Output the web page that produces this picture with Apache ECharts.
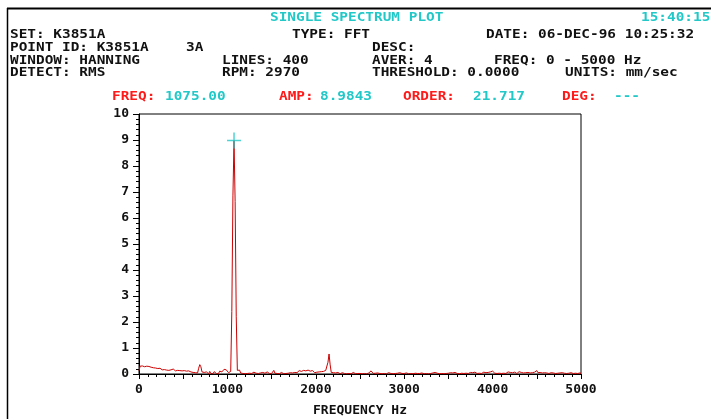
<!DOCTYPE html>
<html>
<head>
    <meta charset="utf-8">
    <title>Single Spectrum Plot</title>
    <script src="https://cdn.jsdelivr.net/npm/echarts@6/dist/echarts.min.js"></script>
</head>
<body style="margin:0;background:#fff;">
<div id="main" style="width: 711px;height:419px;"></div>
<script type="text/javascript">
    // 400 lines, 0 - 5000 Hz -> 12.5 Hz per bin
    var freqStep = 12.5;
    var amplitude = [
        0.12, 0.30, 0.35, 0.31, 0.34, 0.28, 0.33, 0.30, 0.27, 0.29, 0.24, 0.26, 0.22, 0.24, 0.20, 0.23, 0.25, 0.21, 0.18, 0.22,
        0.19, 0.16, 0.21, 0.17, 0.20, 0.15, 0.19, 0.14, 0.18, 0.16, 0.13, 0.19, 0.15, 0.12, 0.17, 0.14, 0.18, 0.13, 0.16, 0.12,
        0.17, 0.13, 0.15, 0.11, 0.16, 0.12, 0.14, 0.08, 0.10, 0.06, 0.09, 0.05, 0.07, 0.04, 0.22, 0.36, 0.28, 0.08, 0.04, 0.06,
        0.02, 0.08, 0.03, 0.01, 0.10, 0.02, 0.05, 0.01, 0.09, 0.03, 0.02, 0.06, 0.02, 0.11, 0.04, 0.08, 0.14, 0.18, 0.12, 0.16,
        0.10, 0.05, 0.12, 0.10, 2.40, 6.85, 8.9843, 6.63, 2.20, 0.14, 0.10, 0.15, 0.04, 0.08, 0.02, 0.06, 0.01, 0.07, 0.02, 0.05,
        0.03, 0.06, 0.02, 0.04, 0.07, 0.01, 0.03, 0.05, 0.02, 0.01, 0.04, 0.02, 0.06, 0.01, 0.03, 0.02, 0.08, 0.01, 0.02, 0.04,
        0.02, 0.01, 0.14, 0.03, 0.01, 0.02, 0.05, 0.01, 0.03, 0.06, 0.02, 0.01, 0.04, 0.02, 0.07, 0.03, 0.08, 0.05, 0.10, 0.04,
        0.09, 0.06, 0.12, 0.05, 0.08, 0.13, 0.07, 0.10, 0.06, 0.14, 0.09, 0.12, 0.07, 0.15, 0.08, 0.11, 0.06, 0.13, 0.09, 0.05,
        0.10, 0.07, 0.12, 0.08, 0.11, 0.09, 0.13, 0.10, 0.12, 0.14, 0.15, 0.45, 0.77, 0.35, 0.06, 0.03, 0.05, 0.02, 0.04, 0.01,
        0.06, 0.02, 0.01, 0.03, 0.05, 0.01, 0.02, 0.07, 0.01, 0.03, 0.02, 0.04, 0.01, 0.02, 0.06, 0.02, 0.01, 0.03, 0.02, 0.05,
        0.02, 0.04, 0.01, 0.03, 0.02, 0.05, 0.01, 0.02, 0.04, 0.08, 0.12, 0.06, 0.02, 0.01, 0.03, 0.02, 0.04, 0.01, 0.02, 0.03,
        0.01, 0.03, 0.02, 0.04, 0.01, 0.02, 0.05, 0.01, 0.02, 0.03, 0.01, 0.04, 0.02, 0.01, 0.03, 0.02, 0.05, 0.01, 0.02, 0.03,
        0.02, 0.01, 0.04, 0.02, 0.01, 0.03, 0.02, 0.06, 0.01, 0.02, 0.03, 0.01, 0.02, 0.05, 0.02, 0.01, 0.04, 0.02, 0.01, 0.03,
        0.02, 0.05, 0.01, 0.03, 0.02, 0.01, 0.04, 0.02, 0.06, 0.01, 0.03, 0.02, 0.01, 0.05, 0.02, 0.03, 0.01, 0.04, 0.02, 0.01,
        0.03, 0.02, 0.05, 0.01, 0.04, 0.02, 0.06, 0.03, 0.02, 0.05, 0.01, 0.04, 0.03, 0.06, 0.02, 0.05, 0.03, 0.07, 0.02, 0.04,
        0.06, 0.03, 0.05, 0.02, 0.07, 0.04, 0.02, 0.06, 0.03, 0.05, 0.02, 0.04, 0.07, 0.03, 0.05, 0.02, 0.06, 0.04, 0.08, 0.05,
        0.11, 0.06, 0.03, 0.05, 0.02, 0.07, 0.03, 0.04, 0.02, 0.06, 0.03, 0.05, 0.02, 0.04, 0.08, 0.03, 0.06, 0.02, 0.05, 0.03,
        0.07, 0.04, 0.02, 0.05, 0.09, 0.03, 0.06, 0.02, 0.04, 0.03, 0.05, 0.02, 0.06, 0.03, 0.04, 0.02, 0.05, 0.03, 0.07, 0.04,
        0.13, 0.05, 0.03, 0.06, 0.02, 0.04, 0.03, 0.05, 0.02, 0.04, 0.06, 0.02, 0.03, 0.05, 0.02, 0.04, 0.03, 0.02, 0.05, 0.03,
        0.02, 0.04, 0.03, 0.05, 0.02, 0.03, 0.06, 0.02, 0.04, 0.03, 0.02, 0.05, 0.03, 0.02, 0.04, 0.03, 0.05, 0.02, 0.03, 0.04, 0.03
    ];
    // cursor position and readout
    var cursorPoint = [1075, 8.9843];
    var cursorReadout = ['1075.00', '8.9843', '21.717', '---'];
    var headerTitle = 'SINGLE SPECTRUM PLOT';
    var headerTime = '15:40:15';
    var headerInfo = [
        ['SET: K3851A', 'TYPE: FFT', 'DATE: 06-DEC-96 10:25:32'],
        ['POINT ID: K3851A', '3A', 'DESC:'],
        ['WINDOW: HANNING', 'LINES: 400', 'AVER: 4', 'FREQ: 0 - 5000 Hz'],
        ['DETECT: RMS', 'RPM: 2970', 'THRESHOLD: 0.0000', 'UNITS: mm/sec']
    ];

    var RED = '#ff1a1a', CYAN = '#22c8c8', INK = '#111';
    var FONT = 'bold 12px "DejaVu Sans Mono", "Liberation Mono", monospace';

    function txt(x, y, s, color) {
        return {
            type: 'text', x: x, y: y, scaleX: 1.2,
            style: { text: s, x: 0, y: 0, font: FONT, fill: color || INK,
                     textVerticalAlign: 'middle', verticalAlign: 'middle' }
        };
    }

    // left edges of text columns for each header row
    var rowX = [[10, 292, 486], [10, 186, 372], [10, 222, 372, 494], [10, 222, 372, 565]];
    var rowY = [34.5, 47.5, 60.5, 73];

    var graphics = [
        { type: 'line', shape: { x1: 7, y1: 8.5, x2: 711, y2: 8.5 }, style: { stroke: '#000', lineWidth: 2 } },
        { type: 'line', shape: { x1: 7.5, y1: 8, x2: 7.5, y2: 419 }, style: { stroke: '#000', lineWidth: 1.5 } },
        txt(270, 17.5, headerTitle, CYAN),
        txt(641, 17.5, headerTime, CYAN)
    ];
    headerInfo.forEach(function (row, r) {
        row.forEach(function (s, c) {
            graphics.push(txt(rowX[r][c], rowY[r], s));
        });
    });
    graphics.push(
        txt(112, 96.5, 'FREQ:', RED), txt(165, 96.5, cursorReadout[0], CYAN),
        txt(279, 96.5, 'AMP:', RED), txt(320, 96.5, cursorReadout[1], CYAN),
        txt(403, 96.5, 'ORDER:', RED), txt(473, 96.5, cursorReadout[2], CYAN),
        txt(562, 96.5, 'DEG:', RED), txt(614, 96.5, cursorReadout[3], CYAN)
    );

    var spectrum = amplitude.map(function (v, i) { return [i * freqStep, v]; });

    var axisFont = { color: INK, fontFamily: '"DejaVu Sans Mono", monospace', fontWeight: 'bold', fontSize: 13 };

    var myChart = echarts.init(document.getElementById('main'));
    myChart.setOption({
        animation: false,
        backgroundColor: '#fff',
        grid: { left: 139, right: 130, top: 114, bottom: 45, show: true, borderColor: '#000', borderWidth: 1,
                containLabel: false, outerBoundsMode: 'none' },
        xAxis: {
            type: 'value', min: 0, max: 5000, interval: 500,
            name: 'FREQUENCY Hz', nameLocation: 'middle', nameGap: 30,
            nameTextStyle: axisFont,
            axisLine: { show: true, lineStyle: { color: '#000', width: 1 } },
            axisTick: { show: true, length: 5, lineStyle: { color: '#000' } },
            minorTick: { show: true, splitNumber: 5, length: 3, lineStyle: { color: '#000' } },
            splitLine: { show: false },
            axisLabel: Object.assign({ margin: 9, formatter: function (v) { return v % 1000 === 0 ? String(v) : ''; } }, axisFont)
        },
        yAxis: {
            type: 'value', min: 0, max: 10, interval: 1,
            axisLine: { show: true, lineStyle: { color: '#000', width: 1 } },
            axisTick: { show: true, length: 6, lineStyle: { color: '#000' } },
            minorTick: { show: true, splitNumber: 5, length: 3, lineStyle: { color: '#000' } },
            splitLine: { show: false },
            axisLabel: Object.assign({ margin: 10 }, axisFont)
        },
        series: [{
            type: 'line',
            data: spectrum,
            showSymbol: false,
            lineStyle: { color: '#cc0000', width: 1 },
            z: 5
        }, {
            type: 'scatter',
            data: [cursorPoint],
            symbol: 'path://M0,7.25H14V8.75H0Z M6.25,0H7.75V16H6.25Z',
            symbolSize: [14, 16],
            itemStyle: { color: CYAN },
            z: 6
        }],
        graphic: graphics
    });
</script>
</body>
</html>
